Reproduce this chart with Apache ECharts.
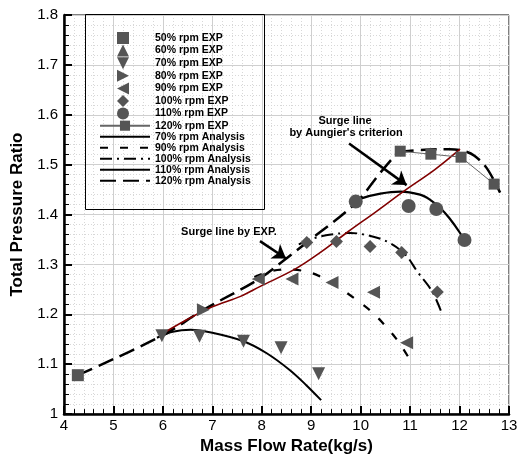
<!DOCTYPE html>
<html><head><meta charset="utf-8">
<script src="https://cdn.jsdelivr.net/npm/echarts@6/dist/echarts.min.js"></script>
<style>html,body{margin:0;padding:0;background:#fff}#c{width:521px;height:460px}</style>
</head><body><div id="c"></div>
<script>
// ---- Experimental points [massFlow, pressureRatio]
const exp50 = [[4.28, 1.078]];
const exp60 = [];
const exp70 = [[5.98, 1.157], [6.74, 1.156], [7.63, 1.146], [8.39, 1.133], [9.15, 1.081]];
const exp80 = [[6.82, 1.209]];
const exp90 = [[7.93, 1.271], [8.61, 1.271], [9.42, 1.264], [10.26, 1.244], [10.93, 1.143]];
const exp100 = [[8.91, 1.344], [9.51, 1.346], [10.19, 1.336], [10.83, 1.324], [11.55, 1.245]];
const exp110 = [[9.90, 1.426], [10.97, 1.417], [11.53, 1.411], [12.10, 1.349]];
const exp120 = [[10.80, 1.527], [11.42, 1.521], [12.03, 1.515], [12.70, 1.461]];
// ---- Analysis curves
const ana70 = [[5.88, 1.153], [6.2, 1.165], [6.56, 1.169], [7.0, 1.163], [7.63, 1.146], [8.1, 1.122], [8.57, 1.088], [8.9, 1.058], [9.2, 1.028]];
const ana90 = [[7.85, 1.275], [8.2, 1.287], [8.5, 1.290], [8.9, 1.286], [9.2, 1.275], [9.5, 1.258], [9.9, 1.230], [10.2, 1.207], [10.5, 1.177], [10.8, 1.140], [11.07, 1.096]];
const ana100 = [[8.75, 1.340], [9.0, 1.351], [9.4, 1.360], [9.8, 1.363], [10.2, 1.357], [10.55, 1.345], [10.9, 1.320], [11.15, 1.285], [11.45, 1.245], [11.65, 1.200]];
const ana110 = [[9.79, 1.421], [10.0, 1.432], [10.4, 1.442], [10.8, 1.446], [11.2, 1.440], [11.4, 1.430], [11.61, 1.413], [11.8, 1.392], [12.01, 1.363], [12.11, 1.346]];
const ana120 = [[10.75, 1.525], [11.3, 1.530], [11.8, 1.531], [12.1, 1.527], [12.3, 1.518], [12.55, 1.493], [12.82, 1.444]];
// ---- Surge lines
const surgeExp = [[4.28, 1.078], [5.98, 1.157], [6.82, 1.209], [7.93, 1.270], [8.47, 1.310], [8.91, 1.344], [9.90, 1.423], [10.39, 1.483], [10.75, 1.525]];
const surgeAungier = [[5.97, 1.160], [6.5, 1.190], [7.0, 1.215], [7.57, 1.236], [7.97, 1.256], [8.68, 1.291], [9.2, 1.325], [9.75, 1.366], [10.3, 1.405], [10.89, 1.448], [11.5, 1.490], [12.01, 1.531]];
// ---- Annotation arrows [from, to] in data units
const arrowAungier = [[9.765, 1.5425], [10.93, 1.459]];
const arrowExp = [[7.964, 1.3468], [8.49, 1.312]];
// ---- Texts
const expNames = ['50% rpm EXP', '60% rpm EXP', '70% rpm EXP', '80% rpm EXP', '90% rpm EXP', '100% rpm EXP', '110% rpm EXP'];
const lineNames = ['120% rpm EXP', '70% rpm Analysis', '90% rpm Analysis', '100% rpm Analysis', '110% rpm Analysis', '120% rpm Analysis'];
const xTitle = 'Mass Flow Rate(kg/s)';
const yTitle = 'Total Pressure Ratio';

const FONT = '"Liberation Sans", Arial, sans-serif';
const MK = '#555555';
const chart = echarts.init(document.getElementById('c'), null, {renderer: 'canvas'});

const icons = ['rect', 'triangle', 'path://M0,0 L10,0 L5,10 Z', 'path://M0,0 L10,5 L0,10 Z', 'path://M10,0 L0,5 L10,10 Z', 'diamond', 'circle'];

function scatter(name, data, symbol, size, rot) {
  return {name, type: 'scatter', data, symbol, symbolSize: size, symbolRotate: rot || 0, symbolKeepAspect: true,
    itemStyle: {color: MK, opacity: 1}, z: 5, silent: true};
}
function curve(name, data, type, width, color) {
  return {name, type: 'line', data, symbol: 'none', showSymbol: false, smooth: 0.35,
    lineStyle: {color: color || '#000', width: width || 2, type: type || 'solid'}, itemStyle: {color: color || '#000'}, z: 3, silent: true};
}
const arrowLS = {color: '#000', width: 2.5, type: 'solid'};
const legendText = {fontFamily: FONT, fontSize: 10.5, fontWeight: 'bold', color: '#000'};

chart.setOption({
  animation: false,
  backgroundColor: '#fff',
  textStyle: {fontFamily: FONT},
  grid: {left: 64, right: 12, top: 15, bottom: 42, show: true, borderColor: '#000', borderWidth: 1},
  legend: [
    {
      data: expNames.map((n, i) => ({name: n, icon: icons[i]})), orient: 'vertical', left: 117, top: 32,
      padding: 0, itemWidth: 12, itemHeight: 12, itemGap: 0.6, selectedMode: false,
      textStyle: Object.assign({padding: [0, 0, 0, 21]}, legendText)
    },
    {
      data: lineNames.map((n, i) => i === 0 ? {name: n} : {name: n, itemStyle: {opacity: 0}}),
      orient: 'vertical', left: 99, top: 120.2,
      padding: 0, itemWidth: 50, itemHeight: 12.6, itemGap: 0, selectedMode: false,
      textStyle: legendText
    }
  ],
  xAxis: {
    type: 'value', min: 4, max: 13, interval: 1, name: xTitle, nameLocation: 'middle', nameGap: 22,
    nameTextStyle: {fontFamily: FONT, fontSize: 17, fontWeight: 'bold', color: '#000'},
    axisLine: {lineStyle: {color: '#000', width: 2.5}},
    axisTick: {inside: true, length: 8, lineStyle: {color: '#000', width: 2}},
    minorTick: {show: true, splitNumber: 5, length: 5, lineStyle: {color: '#000', width: 1}},
    axisLabel: {fontFamily: FONT, fontSize: 15, color: '#000', margin: 4},
    splitLine: {show: true, lineStyle: {color: '#cfcfcf', width: 1}},
    minorSplitLine: {show: true, lineStyle: {color: '#d8d8d8', width: 1, type: [1, 2]}}
  },
  yAxis: {
    type: 'value', min: 1, max: 1.8, interval: 0.1, name: yTitle, nameLocation: 'middle', nameGap: 33,
    nameTextStyle: {fontFamily: FONT, fontSize: 17, fontWeight: 'bold', color: '#000'},
    axisLine: {show: true, lineStyle: {color: '#000', width: 2.5}},
    axisTick: {show: true, inside: true, length: 8, lineStyle: {color: '#000', width: 2}},
    minorTick: {show: true, splitNumber: 5, length: 5, lineStyle: {color: '#000', width: 1}},
    axisLabel: {fontFamily: FONT, fontSize: 15, color: '#000', margin: 6,
      formatter: v => String(Math.round(v * 10) / 10)},
    splitLine: {show: true, lineStyle: {color: '#cfcfcf', width: 1}},
    minorSplitLine: {show: true, lineStyle: {color: '#d8d8d8', width: 1, type: [1, 2]}}
  },
  graphic: [
    {type: 'rect', shape: {x: 85.5, y: 14.5, width: 179, height: 195}, style: {fill: 'none', stroke: '#000', lineWidth: 1}, z: 20, silent: true},
    {type: 'text', x: 345, y: 121, style: {text: 'Surge line', font: 'bold 11px ' + FONT, fill: '#000', align: 'center', verticalAlign: 'middle'}, z: 20},
    {type: 'text', x: 346, y: 133, style: {text: "by Aungier's criterion", font: 'bold 11px ' + FONT, fill: '#000', align: 'center', verticalAlign: 'middle'}, z: 20},
    {type: 'text', x: 229, y: 232, style: {text: 'Surge line by EXP.', font: 'bold 11px ' + FONT, fill: '#000', align: 'center', verticalAlign: 'middle'}, z: 20}
  ],
  series: [
    scatter('50% rpm EXP', exp50, 'rect', 12, 0),
    scatter('60% rpm EXP', exp60, 'triangle', 13, 0),
    scatter('70% rpm EXP', exp70, 'triangle', 13, 180),
    scatter('80% rpm EXP', exp80, 'triangle', 13, -90),
    scatter('90% rpm EXP', exp90, 'triangle', 13, 90),
    scatter('100% rpm EXP', exp100, 'diamond', 13, 0),
    scatter('110% rpm EXP', exp110, 'circle', 14, 0),
    {name: '120% rpm EXP', type: 'line', data: exp120, symbol: 'rect', symbolSize: 11, showSymbol: true,
      lineStyle: {color: '#666', width: 1}, itemStyle: {color: MK}, z: 5, silent: true},
    curve('70% rpm Analysis', ana70, 'solid', 2),
    curve('90% rpm Analysis', ana90, [8, 12], 2.2),
    curve('100% rpm Analysis', ana100, [12, 5, 2, 5], 2),
    curve('110% rpm Analysis', ana110, 'solid', 2.2),
    curve('120% rpm Analysis', ana120, [16, 7], 2.5),
    curve('Surge line by EXP.', surgeExp, [16, 7], 2.5),
    curve("Surge line by Aungier's criterion", surgeAungier, 'solid', 1.6, '#800000'),
    {name: 'annotations', type: 'line', data: [], silent: true,
      markLine: {silent: true, animation: false, symbol: ['none', 'arrow'], symbolSize: 13,
        label: {show: false}, emphasis: {disabled: true}, lineStyle: arrowLS,
        data: [
          [{coord: arrowAungier[0]}, {coord: arrowAungier[1]}],
          [{coord: arrowExp[0]}, {coord: arrowExp[1]}]
        ]}}
  ]
});
</script></body></html>
